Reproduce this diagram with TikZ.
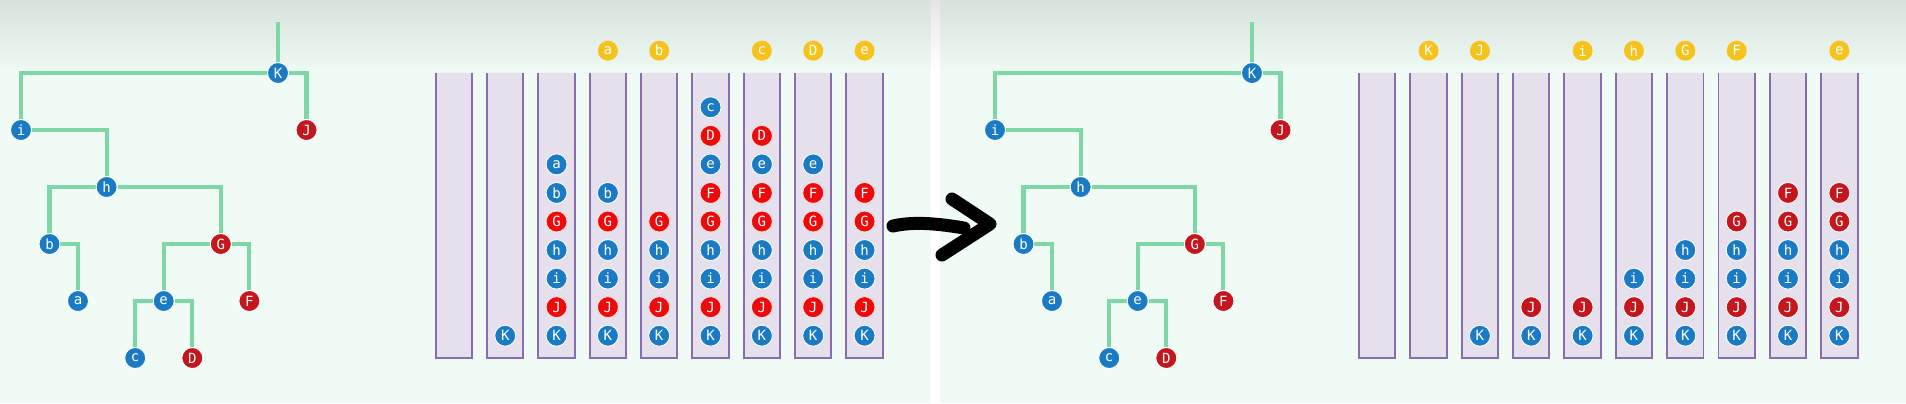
\documentclass[tikz,border=0pt]{standalone}
\usepackage{fontspec}
\setmonofont{DejaVu Sans Mono}
\usetikzlibrary{backgrounds}
\definecolor{keyBlue}{HTML}{1A7BC4}
\definecolor{keyRed}{HTML}{C4161C}
\definecolor{hotRed}{HTML}{EE0A0A}
\definecolor{labYellow}{HTML}{F6C21C}
\definecolor{linkGreen}{HTML}{7DD8A6}
\definecolor{slotFill}{HTML}{E6E0EC}
\definecolor{slotLine}{HTML}{8A6DAE}
\definecolor{panelMint}{HTML}{F0FBF5}
\definecolor{panelTop}{HTML}{D8E1DC}

\begin{document}
\begin{tikzpicture}[x=0.02cm, y=-0.02cm,
   key/.style={circle, inner sep=0pt, minimum size=0.42cm, draw=white,
               line width=0.5pt, text=white,
               font=\ttfamily\fontsize{8}{8}\selectfont},
   bl/.style={key, fill=keyBlue},
   rd/.style={key, fill=keyRed},
   hot/.style={key, fill=hotRed, draw=red!12},
   lab/.style={key, fill=labYellow, draw=none, minimum size=0.40cm},
   link/.style={linkGreen, line width=2.3pt},
   slot/.style={rectangle, fill=slotFill, inner sep=0pt,
                minimum width=0.713cm, minimum height=5.7cm},
   slotline/.style={slotLine, line width=1.1pt}]

\useasboundingbox (0,0) rectangle (1906,403);
\begin{scope}[on background layer]
  \fill[panelMint] (0,0) rectangle (1906,403);
  \shade[top color=panelTop, bottom color=panelMint] (0,0) rectangle (1906,75);
  \fill[white] (931,70) rectangle (940,403);
  \shade[top color=black!10, bottom color=white] (931,0) rectangle (940,70);
\end{scope}

% the same tree, before and after
\foreach \px/\pre in {0/L, 974/R}{
\begin{scope}[xshift=\px*0.02cm, name prefix=\pre-]
  \coordinate (stem) at (278,22);
  \node[bl] (K) at (278,73) {K};
  \node[rd] (J) at (306.5,130) {J};
  \node[bl] (i) at (21,130) {i};
  \node[bl] (h) at (106.6,187) {h};
  \node[bl] (b) at (49.5,244) {b};
  \node[rd] (G) at (220.8,244) {G};
  \node[bl] (a) at (78,301) {a};
  \node[bl] (e) at (163.7,301) {e};
  \node[rd] (F) at (249.4,301) {F};
  \node[bl] (c) at (135.2,358) {c};
  \node[rd] (D) at (192.3,358) {D};
  \begin{scope}[on background layer]
    \draw[link] (stem) -- (K);
    \draw[link] (K) -| (i);
    \draw[link] (K) -| (J);
    \draw[link] (i) -| (h);
    \draw[link] (h) -| (b);
    \draw[link] (h) -| (G);
    \draw[link] (b) -| (a);
    \draw[link] (G) -| (e);
    \draw[link] (G) -| (F);
    \draw[link] (e) -| (c);
    \draw[link] (e) -| (D);
  \end{scope}
\end{scope}}

% stacks, first run
\foreach \n in {0,...,8}{
  \node[slot] (Ls\n) at (453.9+51.33*\n,215.5) {};
  \draw[slotline] (Ls\n.north west) -- (Ls\n.south west)
                  -- (Ls\n.south east) -- (Ls\n.north east);}
\foreach \col/\items in {1/{K/bl},
    2/{K/bl,J/hot,i/bl,h/bl,G/hot,b/bl,a/bl},
    3/{K/bl,J/hot,i/bl,h/bl,G/hot,b/bl},
    4/{K/bl,J/hot,i/bl,h/bl,G/hot},
    5/{K/bl,J/hot,i/bl,h/bl,G/hot,F/hot,e/bl,D/hot,c/bl},
    6/{K/bl,J/hot,i/bl,h/bl,G/hot,F/hot,e/bl,D/hot},
    7/{K/bl,J/hot,i/bl,h/bl,G/hot,F/hot,e/bl},
    8/{K/bl,J/hot,i/bl,h/bl,G/hot,F/hot}}
  \foreach \lt/\st [count=\k from 0] in \items
    \node[\st] (L\col-\k) at (453.9+51.33*\col,335.7-28.55*\k) {\lt};
\foreach \col/\lt in {3/a, 4/b, 6/c, 7/D, 8/e}
  \node[lab] (La\col) at (453.9+51.33*\col,50.7) {\lt};

% stacks, second run
\foreach \n in {0,...,9}{
  \node[slot] (Rs\n) at (1377.2+51.35*\n,215.5) {};
  \draw[slotline] (Rs\n.north west) -- (Rs\n.south west)
                  -- (Rs\n.south east) -- (Rs\n.north east);}
\foreach \col/\items in {2/{K/bl}, 3/{K/bl,J/rd}, 4/{K/bl,J/rd},
    5/{K/bl,J/rd,i/bl},
    6/{K/bl,J/rd,i/bl,h/bl},
    7/{K/bl,J/rd,i/bl,h/bl,G/rd},
    8/{K/bl,J/rd,i/bl,h/bl,G/rd,F/rd},
    9/{K/bl,J/rd,i/bl,h/bl,G/rd,F/rd}}
  \foreach \lt/\st [count=\k from 0] in \items
    \node[\st] (R\col-\k) at (1377.2+51.35*\col,335.7-28.55*\k) {\lt};
\foreach \col/\lt in {1/K, 2/J, 4/i, 5/h, 6/G, 7/F, 9/e}
  \node[lab] (Ra\col) at (1377.2+51.35*\col,50.7) {\lt};

% hand-drawn arrow
\draw[line width=0.26cm, line cap=round, line join=round]
  (893,226) .. controls (915,221) and (940,224) .. (964,228);
\draw[line width=0.26cm, line cap=round, line join=round]
  (952,199) -- (990,224) -- (942,255);
\end{tikzpicture}
\end{document}
